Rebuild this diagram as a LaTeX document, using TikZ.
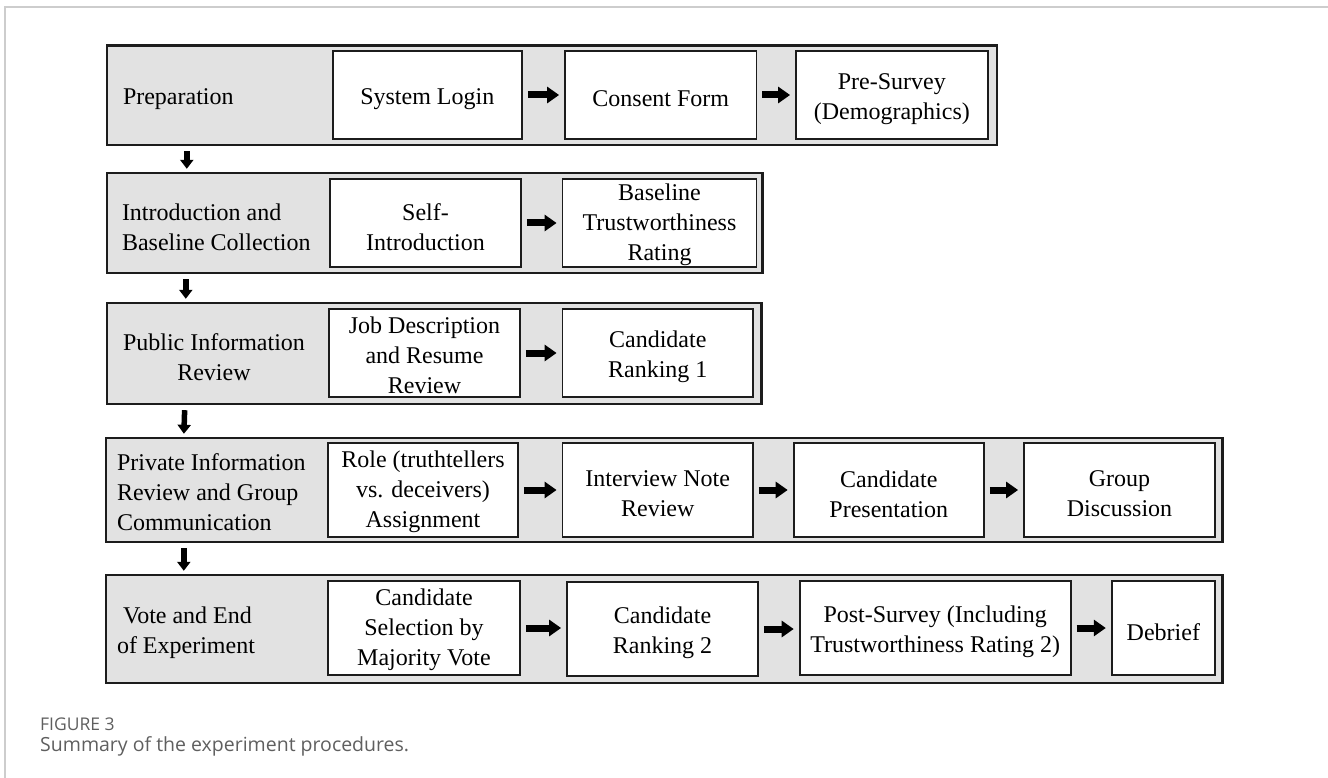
\documentclass[tikz,border=0pt]{standalone}
\usepackage{fontspec}
\setmainfont{Liberation Serif}
\newfontfamily\capfont{Open Sans}
\usetikzlibrary{arrows.meta,calc,fit}
\definecolor{stagegray}{RGB}{226,226,226}
\definecolor{ink}{RGB}{28,28,28}
\definecolor{framegray}{RGB}{205,205,205}
\definecolor{captext}{RGB}{95,95,95}
\begin{document}
\begin{tikzpicture}[x=1pt,y=-1pt,
  stage/.style={draw=ink, line width=2.4pt, fill=stagegray, inner sep=0pt},
  stepbox/.style={draw=ink, line width=1.8pt, fill=white, inner sep=0pt},
  steptext/.style={align=center, inner sep=0pt, yshift=-4pt,
    font=\fontsize{24}{30}\selectfont},
  threelines/.style={yshift=2pt},
  stagelabel/.style={anchor=west, inner sep=0pt, align=left, yshift=-4pt,
    font=\fontsize{24}{30}\selectfont},
  flow/.style={draw=black, line width=7pt,
    -{Triangle[length=12pt,width=16pt]}, shorten <=5pt, shorten >=5pt},
  dropflow/.style={draw=black, line width=5.5pt,
    -{Triangle[length=9pt,width=13pt]}, shorten <=5pt, shorten >=3pt},
  captionfont/.style={anchor=base west, inner sep=0pt, text=captext}]

\useasboundingbox (0,0) rectangle (1328,778);

% page frame
\draw[framegray, line width=1.5pt] (1328,7) -- (5,7) -- (5,778);

% stage bands
\node[stage, fit={(107,45.7)(997,145)}] (r1) {};
\node[stage, fit={(107,173)(762.5,273)}] (r2) {};
\node[stage, fit={(107,303)(761.6,404)}] (r3) {};
\node[stage, fit={(106,438)(1222.5,542)}] (r4) {};
\node[stage, fit={(106,575)(1222.5,683)}] (r5) {};

% stage names
\node[stagelabel] (l1) at ($(r1.west)+(17,0)$) {Preparation};
\node[stagelabel] (l2) at ($(r2.west)+(16,0)$) {Introduction and\\Baseline Collection};
\node[stagelabel, align=center] (l3) at ($(r3.west)+(17,0)$) {Public Information\\Review};
\node[stagelabel, threelines] (l4) at ($(r4.west)+(12,0)$) {Private Information\\Review and Group\\Communication};
\node[stagelabel] (l5) at ($(r5.west)+(12,0)$) {\hspace*{6pt}Vote and End\\of Experiment};

% steps: preparation
\node[stepbox, fit={(332.6,51)(522,139)}] (login) {};
\node[steptext] (logintext) at (login.center) {System Login};
\node[stepbox, fit={(565,51)(756.5,139)}] (consent) {};
\node[steptext] (consenttext) at (consent.center) {Consent Form};
\node[stepbox, fit={(796,51)(987.7,139)}] (presurvey) {};
\node[steptext] (presurveytext) at (presurvey.center) {Pre-Survey\\(Demographics)};

% steps: introduction and baseline
\node[stepbox, fit={(330,179)(521,267)}] (selfintro) {};
\node[steptext] (selfintrotext) at (selfintro.center) {Self-\\Introduction};
\node[stepbox, fit={(562.5,179)(756.5,267)}] (baseline) {};
\node[steptext, threelines] (baselinetext) at (baseline.center) {Baseline\\Trustworthiness\\Rating};

% steps: public information
\node[stepbox, fit={(329,309)(520,397)}] (jobdesc) {};
\node[steptext, threelines] (jobdesctext) at (jobdesc.center) {Job Description\\and Resume\\Review};
\node[stepbox, fit={(562.5,309)(753,397)}] (rankone) {};
\node[steptext] (rankonetext) at (rankone.center) {Candidate\\Ranking 1};

% steps: private information and communication
\node[stepbox, fit={(328,443)(518,537)}] (role) {};
\node[steptext, threelines] (roletext) at (role.center) {Role (truthtellers\\vs. deceivers)\\Assignment};
\node[stepbox, fit={(562.5,443)(753,537)}] (interview) {};
\node[steptext] (interviewtext) at (interview.center) {Interview Note\\Review};
\node[stepbox, fit={(793.6,443)(984,537)}] (present) {};
\node[steptext] (presenttext) at (present.center) {Candidate\\Presentation};
\node[stepbox, fit={(1024,443)(1215,537)}] (discuss) {};
\node[steptext] (discusstext) at (discuss.center) {Group\\Discussion};

% steps: vote and end
\node[stepbox, fit={(328,581)(520,675)}] (select) {};
\node[steptext, threelines] (selecttext) at (select.center) {Candidate\\Selection by\\Majority Vote};
\node[stepbox, fit={(567,582)(758,676)}] (ranktwo) {};
\node[steptext] (ranktwotext) at (ranktwo.center) {Candidate\\Ranking 2};
\node[stepbox, fit={(799.6,581)(1070.7,675)}] (post) {};
\node[steptext] (posttext) at (post.center) {Post-Survey (Including\\Trustworthiness Rating 2)};
\node[stepbox, fit={(1111.7,581)(1215,675)}] (debrief) {};
\node[steptext] (debrieftext) at (debrief.center) {Debrief};

% arrows within stages
\draw[flow] (login.east) -- (login.east -| consent.west);
\draw[flow] (consent.east) -- (consent.east -| presurvey.west);
\draw[flow] (selfintro.east) -- (selfintro.east -| baseline.west);
\draw[flow] (jobdesc.east) -- (jobdesc.east -| rankone.west);
\draw[flow] (role.east) -- (role.east -| interview.west);
\draw[flow] (interview.east) -- (interview.east -| present.west);
\draw[flow] (present.east) -- (present.east -| discuss.west);
\draw[flow] (select.east) -- (select.east -| ranktwo.west);
\draw[flow] (ranktwo.east) -- (ranktwo.east -| post.west);
\draw[flow] (post.east) -- (post.east -| debrief.west);

% arrows between stages
\draw[dropflow] ($(r1.south west)+(81,0)$) -- ($(r2.north west)+(81,0)$);
\draw[dropflow] ($(r2.south west)+(80,0)$) -- ($(r3.north west)+(80,0)$);
\draw[dropflow] ($(r3.south west)+(79,0)$) -- ($(r4.north west)+(79,0)$);
\draw[dropflow] ($(r4.south west)+(79,0)$) -- ($(r5.north west)+(79,0)$);

% caption
\node[captionfont, font=\capfont\fontsize{17.5}{20}\selectfont] (figlabel) at (40,730) {FIGURE 3};
\node[captionfont, font=\capfont\fontsize{19.5}{23}\selectfont] (figcaption) at (40,751) {Summary of the experiment procedures.};
\end{tikzpicture}
\end{document}
